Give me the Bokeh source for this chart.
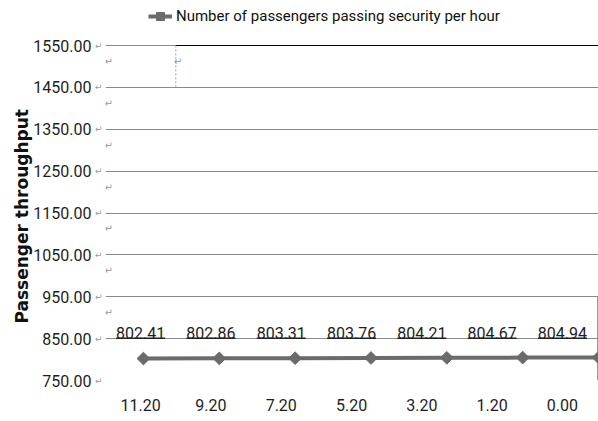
from bokeh.plotting import figure
from bokeh.models import Range1d, LinearAxis, FixedTicker, Legend, LegendItem, Title
from bokeh.core.properties import value
from bokeh.embed import file_html
from bokeh.resources import INLINE

# ---------------- data ----------------
time_labels = ["11.20", "9.20", "7.20", "5.20", "3.20", "1.20", "0.00"]
throughput = [802.41, 802.86, 803.31, 803.76, 804.21, 804.67, 804.94]
y_ticks = [750, 850, 950, 1050, 1150, 1250, 1350, 1450, 1550]
series_name = "Number of passengers passing security per hour"
y_title = "Passenger throughput"

# ---------------- layout / style ----------------
FONT = "Roboto"
TXT = "#1e1e1e"
SERIES = "#6b6b6b"
GRID = "#8a8a8a"
MARKC = "#9a9a9a"
MARK = "\u21b5"
FRAME_W = 493
COL_W = 70.3
GRID_TOP_PX = 45          # space above the top gridline (legend band)
GRID_H_PX = 335           # height of the gridded area
LABEL_ROW = 850

idx = list(range(len(throughput)))
px_per_unit = GRID_H_PX / (y_ticks[-1] - y_ticks[0])
y_end = y_ticks[-1] + GRID_TOP_PX / px_per_unit

p = figure(width=598, height=421,
           x_range=Range1d(-0.5, len(idx) - 1),
           y_range=Range1d(y_ticks[0], y_end),
           output_backend="svg", toolbar_location=None, x_axis_location=None,
           min_border_left=105, min_border_right=0, min_border_top=0, min_border_bottom=41)
p.extra_x_ranges = {"cols": Range1d(-0.5, -0.5 + FRAME_W / COL_W)}
p.outline_line_color = None
p.background_fill_color = "white"
p.border_fill_color = "white"

for g in p.xgrid:
    g.visible = False
p.ygrid.ticker = FixedTicker(ticks=y_ticks)
p.ygrid.grid_line_color = GRID
p.ygrid.grid_line_width = 1

# inner left axis: paragraph marks after each tick label
mark_ax = p.yaxis[0]
mark_ax.ticker = FixedTicker(ticks=y_ticks)
mark_ax.major_label_overrides = {t: MARK for t in y_ticks}
mark_ax.axis_line_color = None
mark_ax.major_tick_line_color = None
mark_ax.minor_tick_line_color = None
mark_ax.major_tick_out = 0
mark_ax.major_tick_in = 0
mark_ax.major_label_standoff = 3
mark_ax.major_label_text_font = "DejaVu Sans"
mark_ax.major_label_text_font_size = "9px"
mark_ax.major_label_text_color = MARKC

# outer left axis: values
yax = LinearAxis(ticker=FixedTicker(ticks=y_ticks),
                 major_label_overrides={t: f"{t:.2f}" for t in y_ticks})
yax.axis_line_color = None
yax.major_tick_line_color = None
yax.minor_tick_line_color = None
yax.major_tick_out = 0
yax.major_tick_in = 0
yax.major_label_standoff = 0
yax.major_label_text_font = FONT
yax.major_label_text_font_size = "16px"
yax.major_label_text_color = TXT
p.add_layout(yax, "left")

# y title, starting a little above the bottom of the gridded area
ytitle = Title(text=y_title, align="left", offset=57, standoff=-3,
               text_font="DejaVu Sans", text_font_style="bold", text_font_size="17px",
               text_color="#111111")
p.add_layout(ytitle, "left")

# x axis (table columns)
xax = LinearAxis(x_range_name="cols",
                 ticker=FixedTicker(ticks=idx),
                 major_label_overrides={i: s for i, s in zip(idx, time_labels)})
xax.axis_line_color = None
xax.major_tick_line_color = None
xax.minor_tick_line_color = None
xax.major_tick_out = 0
xax.major_tick_in = 0
xax.major_label_standoff = 18
xax.major_label_text_font = FONT
xax.major_label_text_font_size = "16px"
xax.major_label_text_color = TXT
p.add_layout(xax, "below")

# table decorations
cols_end = -0.5 + FRAME_W / COL_W
p.line(x=[0.5, cols_end], y=[y_ticks[-1]] * 2, x_range_name="cols", line_color="black", line_width=1)
p.line(x=[0.5, 0.5], y=[y_ticks[-2], y_ticks[-1]], x_range_name="cols",
       line_color="#7da4d6", line_width=1, line_dash="2 2")
p.line(x=[len(idx) - 0.5] * 2, y=[y_ticks[2], y_ticks[0]], x_range_name="cols",
       line_color=GRID, line_width=1)

# series
line_r = p.line(x=idx, y=throughput, line_color=SERIES, line_width=4)
mark_r = p.scatter(x=idx, y=throughput, marker="square", angle=0.785398, size=9,
                   fill_color=SERIES, line_color=SERIES)

# data labels (underlined)
p.text(x=idx, y=[LABEL_ROW] * len(idx), text=[f"{v:.2f}" for v in throughput],
       x_range_name="cols", text_align="center", text_baseline="bottom",
       text_font=value(FONT), text_font_size="16px", text_color=TXT)
half = 24.5 / COL_W
p.segment(x0=[i - half for i in idx], x1=[i + half for i in idx],
          y0=[LABEL_ROW + 1] * len(idx), y1=[LABEL_ROW + 1] * len(idx),
          x_range_name="cols", line_color="#222222", line_width=1.5)

# paragraph marks inside the table
para_y = [t - 38 for t in y_ticks[2:]]
p.text(x=[-0.5] * len(para_y), y=para_y, text=[MARK] * len(para_y), x_range_name="cols",
       text_align="left", text_baseline="middle", text_font=value("DejaVu Sans"),
       text_font_size="10px", text_color=MARKC, x_offset=-1)
p.text(x=[0.5], y=[y_ticks[-1] - 38], text=[MARK], x_range_name="cols",
       text_align="left", text_baseline="middle", text_font=value("DejaVu Sans"),
       text_font_size="10px", text_color=MARKC, x_offset=-2)

# legend in the top band (inside the frame area)
legend = Legend(items=[LegendItem(label=series_name, renderers=[line_r, mark_r])],
                location=(43, GRID_H_PX + GRID_TOP_PX - 26), orientation="horizontal",
                glyph_width=24, glyph_height=20, label_standoff=4,
                padding=0, margin=0,
                border_line_color=None, background_fill_alpha=0,
                label_text_font=FONT, label_text_font_size="15px", label_text_color="#111111")
p.add_layout(legend, "center")

open("out.html", "w").write(file_html(p, INLINE))
